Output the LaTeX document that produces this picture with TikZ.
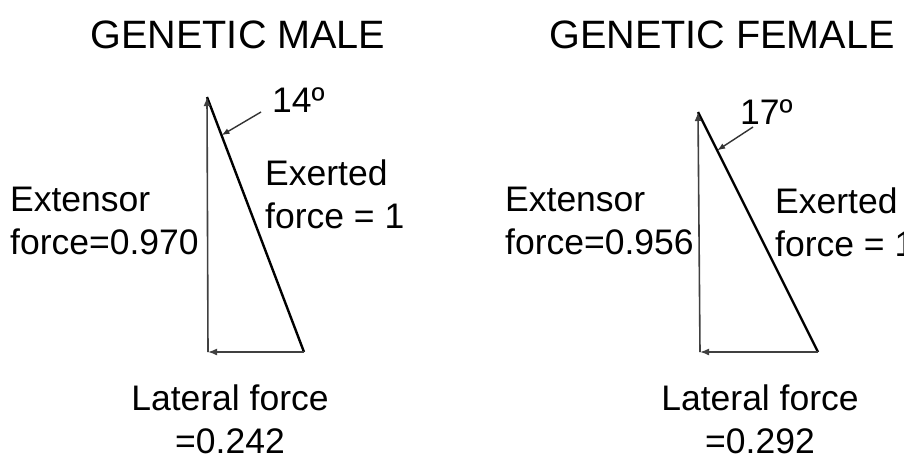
\documentclass[tikz,border=0pt]{standalone}
\usepackage{fontspec}
\setmainfont{Liberation Sans}
\usetikzlibrary{arrows.meta,calc}

\begin{document}
\begin{tikzpicture}[x=1pt,y=-1pt,
    lbl/.style={inner sep=0pt,font=\fontsize{35.5}{43}\selectfont},
    ttl/.style={inner sep=0pt,font=\fontsize{39.6}{44}\selectfont},
    comp/.style={draw=black!75,line width=1.6pt,-{Latex[length=9pt,width=7pt]}},
    res/.style={draw=black,line width=2.4pt},
    lead/.style={draw=black!80,line width=1.4pt,-{Latex[length=8pt,width=6pt]}}]
\useasboundingbox (0,0) rectangle (904,456);
\fill[white] (0,0) rectangle (904,456);

\node[ttl] (mtitle) at (238,35) {GENETIC MALE};
\coordinate (mtop) at (207,97);
\coordinate (mbot) at (208,352);
\coordinate (mright) at (304,352);
\coordinate (mangle) at (261,112);
\draw[res] (mright) -- (mtop);
\draw[comp] (mbot) -- (mtop);
\draw[comp] (mright) -- (mbot);
\draw[lead] (mangle) -- ($(mright)!0.85!(mtop)$);
\node[lbl,anchor=west] (mdeg) at (272,100) {14º};
\node[lbl,anchor=west,align=left] (mext) at (10,221) {Extensor\\force=0.970};
\node[lbl,anchor=west,align=left] (mexe) at (265,194) {Exerted\\force = 1};
\node[lbl,align=center] (mlat) at (230,419) {Lateral force\\=0.242};

\node[ttl] (ftitle) at (722,35) {GENETIC FEMALE};
\coordinate (ftop) at (698,112);
\coordinate (fbot) at (700,352);
\coordinate (fright) at (818,352);
\coordinate (fangle) at (753,127);
\draw[res] (fright) -- (ftop);
\draw[comp] (fbot) -- (ftop);
\draw[comp] (fright) -- (fbot);
\draw[lead] (fangle) -- ($(fright)!0.84!(ftop)$);
\node[lbl,anchor=west] (fdeg) at (740,112) {17º};
\node[lbl,anchor=west,align=left] (fext) at (505,221) {Extensor\\force=0.956};
\node[lbl,anchor=west,align=left] (fexe) at (775,222) {Exerted\\force = 1};
\node[lbl,align=center] (flat) at (760,419) {Lateral force\\=0.292};
\end{tikzpicture}
\end{document}
